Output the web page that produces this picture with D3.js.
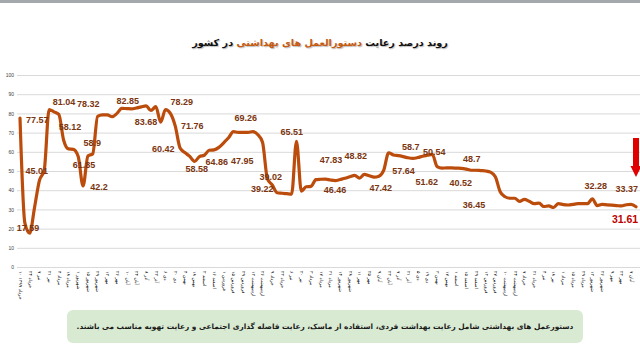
<!DOCTYPE html>
<html>
<head>
<meta charset="utf-8">
<script src="https://cdn.jsdelivr.net/npm/d3@7"></script>
<style>
  html, body { margin: 0; padding: 0; background: #fff; }
  svg { display: block; }
</style>
</head>
<body>
<div id="chart"></div>
<script>
// weekly compliance percentage
var values = [
  77.6, 23.0, 17.6, 31.0, 45.0, 50.5, 82.0, 80.8, 79.5, 66.0,
  61.5, 61.3, 57.5, 42.2, 57.8, 59.0, 78.5, 79.2, 79.2, 78.3,
  80.0, 82.6, 82.5, 82.4, 82.8, 83.4, 83.9, 81.5, 83.5, 75.5,
  82.0, 80.0, 73.5, 62.0, 59.6, 57.6, 55.0, 57.5, 58.2, 60.8,
  61.0, 62.3, 64.7, 67.3, 70.5, 70.1, 70.1, 70.1, 70.5, 69.0,
  65.0, 46.0, 42.7, 38.7, 38.4, 38.2, 38.0, 65.5, 39.5, 41.8,
  42.0, 45.5, 45.7, 45.8, 45.3, 45.0, 45.6, 46.2, 47.0, 47.7,
  46.3, 48.2, 47.5, 46.8, 47.3, 50.5, 59.5, 58.3, 58.0, 57.5,
  56.9, 56.6, 57.0, 57.7, 58.2, 58.7, 52.3, 51.5, 51.6, 51.6,
  51.5, 51.4, 51.0, 50.4, 50.4, 50.2, 50.0, 49.4, 47.0, 39.2,
  36.6, 35.8, 35.8, 34.2, 35.2, 34.2, 33.0, 33.3, 31.5, 31.8,
  31.0, 33.0, 32.5, 32.3, 32.6, 33.0, 33.0, 33.0, 35.5, 32.0,
  32.6, 32.4, 32.2, 32.0, 31.8, 32.4, 32.6, 31.4
];

// x-axis date labels, one per two points
var dateLabels = [
  "۱۰ خرداد ۱۳۹۹", "۲۴ خرداد", "۷ تیر", "۲۱ تیر", "۴ مرداد", "۱۸ مرداد", "۱ شهریور", "۱۵ شهریور",
  "۲۹ شهریور", "۱۲ مهر", "۲۶ مهر", "۱۰ آبان", "۲۴ آبان", "۸ آذر", "۲۲ آذر", "۶ دی",
  "۲۰ دی", "۴ بهمن", "۱۸ بهمن", "۲ اسفند", "۱۶ اسفند", "۱ فروردین", "۱۵ فروردین", "۲۹ فروردین",
  "۱۲ اردیبهشت", "۲۶ اردیبهشت", "۹ خرداد", "۲۳ خرداد", "۶ تیر", "۲۰ تیر", "۳ مرداد", "۱۷ مرداد",
  "۳۱ مرداد", "۱۴ شهریور", "۲۸ شهریور", "۱۱ مهر", "۲۵ مهر", "۹ آبان", "۲۳ آبان", "۷ آذر",
  "۲۱ آذر", "۵ دی", "۱۹ دی", "۳ بهمن", "۱۷ بهمن", "۱ اسفند", "۱۵ اسفند", "۲۹ اسفند",
  "۱۳ فروردین", "۲۷ فروردین", "۱۰ اردیبهشت", "۲۴ اردیبهشت", "۷ خرداد", "۲۱ خرداد", "۴ تیر", "۱۸ تیر",
  "۱ مرداد", "۱۵ مرداد", "۲۹ مرداد", "۱۲ شهریور", "۲۶ شهریور", "۹ مهر", "۲۳ مهر", "۷ آبان"
];

var yTicks = [0, 10, 20, 30, 40, 50, 60, 70, 80, 90, 100];

// value labels as they sit in the reference: text, point index, height (chart units)
var labelText = ["17.59", "45.01", "77.57", "81.04", "78.32", "58.12", "58.9", "61.85", "42.2",
  "82.85", "83.68", "60.42", "78.29", "71.76", "58.58", "64.86", "47.95", "69.26", "39.02",
  "39.22", "65.51", "47.83", "48.82", "46.46", "47.42", "58.7", "57.64", "51.62", "50.54",
  "40.52", "48.7", "36.45", "32.28", "33.37"];
var labelAt = [1.65, 3.44, 3.58, 9.07, 14.08, 10.31, 14.91, 13.2, 16.29,
  22.2, 25.98, 29.55, 33.34, 35.53, 36.43, 40.56, 45.84, 46.54, 51.69,
  49.97, 56.03, 64.12, 69.22, 64.95, 74.37, 80.56, 79.05, 83.86, 85.42,
  90.87, 93.13, 93.61, 118.7, 125.09];
var labelV = [20.3, 50.2, 76.6, 85.8, 84.7, 72.8, 64.7, 53.1, 41.5,
  86.5, 75.3, 61.3, 85.8, 73.6, 51.0, 54.7, 55.4, 77.4, 46.7,
  40.5, 70.2, 55.7, 57.8, 40.1, 41.0, 62.7, 49.8, 44.3, 59.9,
  43.9, 56.4, 32.5, 42.3, 40.8];

var lastLabel = { text: "31.61", at: 124.74, v: 24.8 };

var titleParts = [
  { text: "روند درصد رعایت ", color: "#111" },
  { text: "دستورالعمل های بهداشتی", color: "#c55a11" },
  { text: " در کشور", color: "#111" }
];
var noteText = "دستورعمل های بهداشتی شامل رعایت بهداشت فردی، استفاده از ماسک، رعایت فاصله گذاری اجتماعی و رعایت تهویه مناسب می باشند.";

var W = 640, H = 363;

var svg = d3.select("#chart").append("svg")
  .attr("width", W)
  .attr("height", H);

//thin grey band along the top
svg.append("rect")
  .attr("x", 0).attr("y", 0)
  .attr("width", W).attr("height", 3)
  .attr("fill", "#a3a8ad");

var x = d3.scaleLinear().domain([0, values.length - 1]).range([20, 636]);
var y = d3.scaleLinear().domain([0, 100]).range([267, 75]);

//y axis + gridlines
var yAxis = svg.append("g")
  .attr("transform", "translate(17,0)")
  .call(d3.axisLeft(y).tickValues(yTicks).tickSize(-(W - 17)).tickPadding(3));
yAxis.select(".domain").remove();
yAxis.selectAll(".tick line").attr("stroke", "#d9d9d9").attr("stroke-width", 1);
yAxis.selectAll(".tick text")
  .attr("font-family", "Liberation Sans, Arial, sans-serif")
  .attr("font-size", 5)
  .attr("fill", "#404040");

//x axis with rotated date labels
var evenIdx = d3.range(0, values.length, 2);
var xAxis = svg.append("g")
  .attr("transform", "translate(0,267)")
  .call(d3.axisBottom(x).tickValues(evenIdx).tickSize(0)
    .tickFormat(function(d) { return dateLabels[d / 2]; }));
xAxis.select(".domain").attr("stroke", "#d9d9d9");
xAxis.selectAll(".tick text")
  .attr("font-family", "DejaVu Sans, sans-serif")
  .attr("font-size", 4.6)
  .attr("fill", "#000")
  .attr("text-anchor", "start")
  .attr("dy", "0.35em")
  .attr("x", 0)
  .attr("y", 0)
  .attr("transform", "translate(0,4) rotate(90)");

//the line
var line = d3.line()
  .x(function(d, i) { return x(i); })
  .y(function(d) { return y(d); })
  .curve(d3.curveMonotoneX);

svg.append("path")
  .datum(values)
  .attr("fill", "none")
  .attr("stroke", "#bb4c0c")
  .attr("stroke-width", 3.2)
  .attr("stroke-linejoin", "round")
  .attr("stroke-linecap", "round")
  .attr("d", line);

//value labels
svg.append("g").attr("class", "labels")
  .selectAll("text")
  .data(labelText)
  .enter()
  .append("text")
  .attr("x", function(d, i) { return x(labelAt[i]); })
  .attr("y", function(d, i) { return y(labelV[i]); })
  .attr("dominant-baseline", "central")
  .attr("text-anchor", "middle")
  .attr("font-family", "Liberation Sans, Arial, sans-serif")
  .attr("font-weight", "bold")
  .attr("font-size", 9)
  .attr("fill", "#7b3510")
  .text(function(d) { return d; });

svg.append("text")
  .attr("x", x(lastLabel.at))
  .attr("y", y(lastLabel.v))
  .attr("dominant-baseline", "central")
  .attr("text-anchor", "middle")
  .attr("font-family", "Liberation Sans, Arial, sans-serif")
  .attr("font-weight", "bold")
  .attr("font-size", 10.5)
  .attr("fill", "#c00000")
  .text(lastLabel.text);

//red down arrow over the last point
var ax = x(values.length - 1);
var aTop = 138, aNeck = 166, aTip = 177;
svg.append("path")
  .attr("d", "M" + (ax - 3) + "," + aTop + "L" + (ax + 3) + "," + aTop +
    "L" + (ax + 3) + "," + aNeck + "L" + (ax + 5.5) + "," + aNeck +
    "L" + ax + "," + aTip + "L" + (ax - 5.5) + "," + aNeck +
    "L" + (ax - 3) + "," + aNeck + "Z")
  .attr("fill", "#e00000");

//title
var title = svg.append("text")
  .attr("x", 320)
  .attr("y", 42)
  .attr("direction", "rtl")
  .attr("text-anchor", "middle")
  .attr("dominant-baseline", "central")
  .attr("font-family", "DejaVu Sans, sans-serif")
  .attr("font-weight", "bold")
  .attr("font-size", 14)
  .style("text-shadow", "1px 1px 1px rgba(0,0,0,0.25)");
title.selectAll("tspan")
  .data(titleParts)
  .enter()
  .append("tspan")
  .attr("fill", function(d) { return d.color; })
  .text(function(d) { return d.text; });
var tw = title.node().getComputedTextLength();
if (tw > 0) title.attr("font-size", 14 * 256 / tw);

//note box
svg.append("rect")
  .attr("x", 67).attr("y", 310)
  .attr("width", 516).attr("height", 33)
  .attr("rx", 6).attr("ry", 6)
  .attr("fill", "#d9ead3");

var note = svg.append("text")
  .attr("x", 325)
  .attr("y", 326.5)
  .attr("direction", "rtl")
  .attr("text-anchor", "middle")
  .attr("dominant-baseline", "central")
  .attr("font-family", "DejaVu Sans, sans-serif")
  .attr("font-weight", "bold")
  .attr("font-size", 10)
  .attr("fill", "#1a1a1a")
  .text(noteText);
var nw = note.node().getComputedTextLength();
if (nw > 0) note.attr("font-size", 10 * 498 / nw);
</script>
</body>
</html>
